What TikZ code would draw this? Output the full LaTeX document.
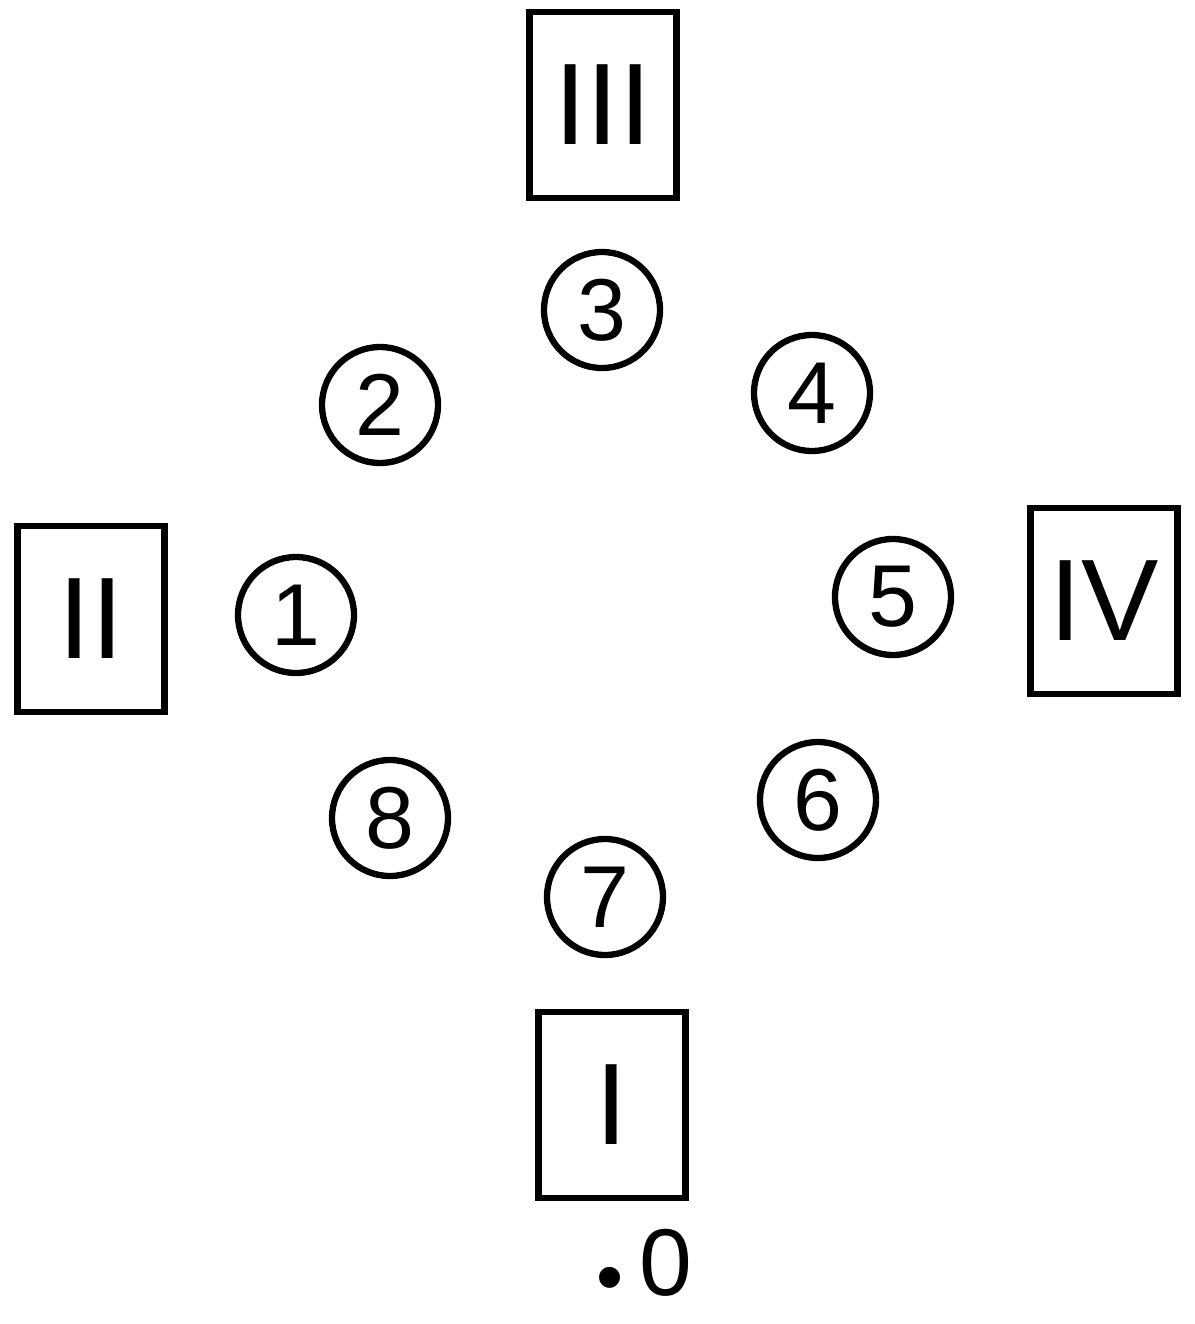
\documentclass[tikz,border=0pt]{standalone}
\usepackage{fontspec}
\setmainfont{Liberation Sans}
\usetikzlibrary{positioning}

\begin{document}
\begin{tikzpicture}[line width=1.8pt,
    placebox/.style={draw,rectangle,minimum width=1.47cm,minimum height=1.86cm,inner sep=0pt,font=\fontsize{33}{33}\selectfont},
    spot/.style={draw,circle,minimum size=1.16cm,inner sep=0pt,font=\fontsize{25}{25}\selectfont}]
  \useasboundingbox (0,0) rectangle (11.94,-13.24);
  % the four positions
  \node[placebox] (p3) at (6.03,-1.05) {III};
  \node[placebox] (p2) at (0.91,-6.19) {II};
  \node[placebox] (p4) at (11.04,-6.01) {IV};
  \node[placebox] (p1) at (6.12,-11.05) {I};
  % the ring of spots
  \node[spot] (s3) at (6.02,-3.10) {3};
  \node[spot] (s2) at (3.80,-4.05) {2};
  \node[spot] (s4) at (8.12,-3.93) {4};
  \node[spot] (s1) at (2.96,-6.15) {1};
  \node[spot] (s5) at (8.93,-5.97) {5};
  \node[spot] (s8) at (3.90,-8.18) {8};
  \node[spot] (s6) at (8.18,-8.00) {6};
  \node[spot] (s7) at (6.05,-8.97) {7};
  \node[inner sep=0pt,font=\fontsize{27}{27}\selectfont] (mark) at (6.44,-12.66) {{\fontsize{22}{22}\selectfont\raisebox{-0.2ex}{\textbullet}}\,0};
\end{tikzpicture}
\end{document}
